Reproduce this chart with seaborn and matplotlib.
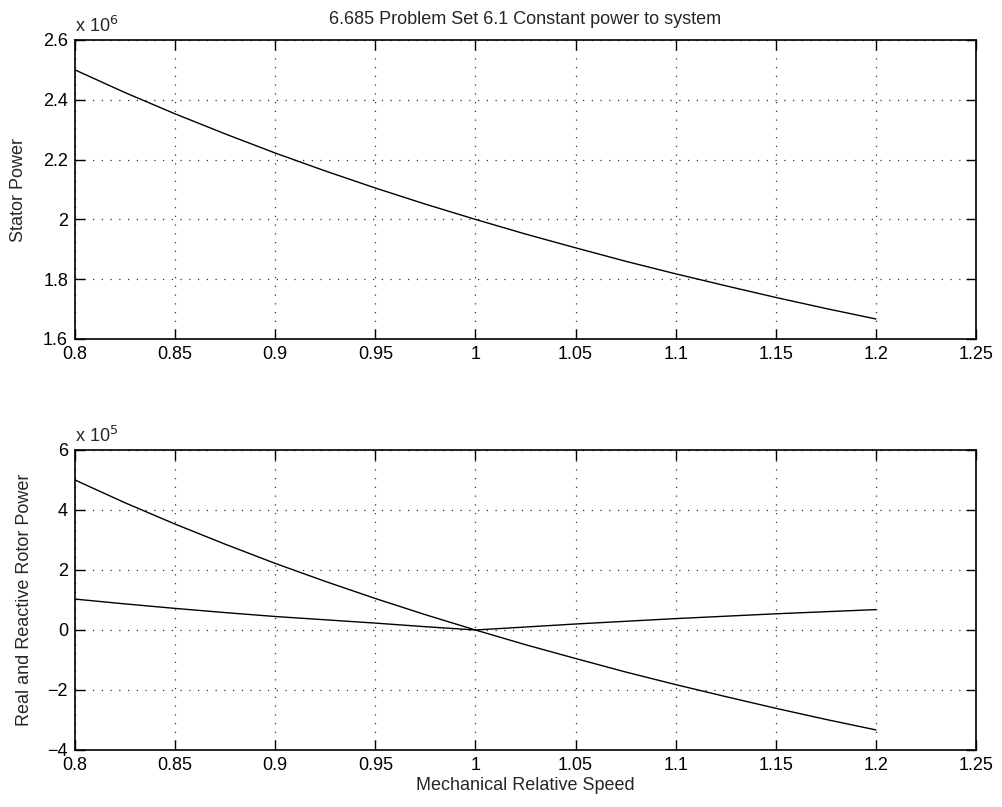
import numpy as np
import pandas as pd
import matplotlib
matplotlib.use("Agg")
import matplotlib.pyplot as plt
import seaborn as sns
from matplotlib.ticker import FuncFormatter

sns.set_style("ticks")
plt.rcParams["font.family"] = ["Liberation Sans", "DejaVu Sans"]

# speed values (step 0.025)
speed = [0.8, 0.825, 0.85, 0.875, 0.9, 0.925, 0.95, 0.975, 1.0,
         1.025, 1.05, 1.075, 1.1, 1.125, 1.15, 1.175, 1.2]
stator_power = [2.5e6, 2.424e6, 2.353e6, 2.286e6, 2.222e6, 2.162e6, 2.105e6, 2.051e6, 2.0e6,
                1.951e6, 1.905e6, 1.860e6, 1.818e6, 1.778e6, 1.739e6, 1.702e6, 1.667e6]
rotor_real = [5.0e5, 4.24e5, 3.53e5, 2.86e5, 2.22e5, 1.62e5, 1.05e5, 0.51e5, 0.0,
              -0.49e5, -0.95e5, -1.40e5, -1.82e5, -2.22e5, -2.61e5, -2.98e5, -3.33e5]
rotor_reactive = [1.03e5, 0.87e5, 0.72e5, 0.58e5, 0.45e5, 0.34e5, 0.23e5, 0.11e5, 0.0,
                  0.10e5, 0.20e5, 0.29e5, 0.38e5, 0.46e5, 0.54e5, 0.61e5, 0.68e5]

xticks = [0.8, 0.85, 0.9, 0.95, 1.0, 1.05, 1.1, 1.15, 1.2, 1.25]

df = pd.DataFrame({"speed": speed, "stator": stator_power,
                   "real": rotor_real, "reactive": rotor_reactive})

fig = plt.figure(figsize=(10.02, 8.07), dpi=100)
ax1 = fig.add_axes([75/1002, 1 - 339/807, 901/1002, 299/807])
ax2 = fig.add_axes([75/1002, 1 - 750/807, 901/1002, 300/807])

sns.lineplot(data=df, x="speed", y="stator", ax=ax1, color="black", lw=1)
sns.lineplot(data=df, x="speed", y="real", ax=ax2, color="black", lw=1)
sns.lineplot(data=df, x="speed", y="reactive", ax=ax2, color="black", lw=1)

def fmt(v):
    return ("%g" % round(v, 3)).replace("-", "\u2212")

def style(ax, yticks, scale, expo):
    ax.set_xlim(0.8, 1.25)
    ax.set_ylim(yticks[0], yticks[-1])
    ax.set_xticks(xticks)
    ax.set_yticks(yticks)
    ax.xaxis.set_major_formatter(FuncFormatter(lambda v, p: fmt(v)))
    ax.yaxis.set_major_formatter(FuncFormatter(lambda v, p: fmt(v / scale)))
    ax.tick_params(direction="in", top=True, right=True, length=7, width=1,
                   labelsize=13, colors="black", pad=5)
    ax.grid(True, linestyle=(0, (1, 6)), color="#333333", lw=0.9)
    for s in ax.spines.values():
        s.set_linewidth(1.2)
        s.set_color("black")
    ax.set_xlabel("")
    ax.text(0.0, 1.015, r"x 10$^{%d}$" % expo, transform=ax.transAxes,
            fontsize=13, ha="left", va="bottom")

style(ax1, [1.6e6, 1.8e6, 2.0e6, 2.2e6, 2.4e6, 2.6e6], 1e6, 6)
style(ax2, [-4e5, -2e5, 0, 2e5, 4e5, 6e5], 1e5, 5)

ax1.set_ylabel("Stator Power", fontsize=13)
ax2.set_ylabel("Real and Reactive Rotor Power", fontsize=13)
ax2.set_xlabel("Mechanical Relative Speed", fontsize=13, labelpad=2)
ax1.yaxis.set_label_coords(-0.053, 0.5)
ax2.yaxis.set_label_coords(-0.047, 0.5)
fig.text(525/1002, 1 - 20/807, "6.685 Problem Set 6.1 Constant power to system",
         ha="center", va="center", fontsize=13)

fig.savefig("out.png", dpi=100, facecolor="white")
